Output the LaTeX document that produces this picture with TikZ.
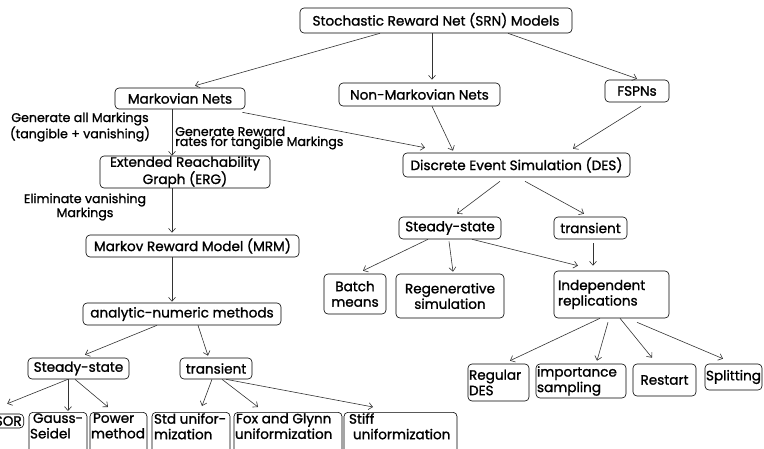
\documentclass[tikz,border=0pt]{standalone}
\usepackage{fontspec}
\setmainfont{Poppins}[FakeBold=1.2]
\usetikzlibrary{arrows.meta}
\newcommand\boxfont{\fontsize{13.6}{15.5}\selectfont}
\newcommand\ergfont{\fontsize{13.6}{10.5}\selectfont}
\newcommand\tightfont{\fontsize{12.6}{10}\selectfont}
\begin{document}
\begin{tikzpicture}[x=1pt,y=-1pt,
  box/.style={draw=black, line width=0.6pt, rounded corners=4pt, inner sep=0pt, font=\boxfont},
  lbl/.style={inner sep=0pt, font=\tightfont},
  arr/.style={draw=black!80, line width=0.6pt, -{Straight Barb[length=4pt,width=7pt]}}]
\useasboundingbox (0,0) rectangle (764,448);
\clip (0,0) rectangle (764,448);
% top level
\node[box, minimum width=272pt, minimum height=25pt] (srn) at (436,20.5) {Stochastic Reward Net (SRN) Models};
\node[box, minimum width=130pt, minimum height=21pt] (mn) at (180,98.5) {Markovian Nets};
\node[box, minimum width=161pt, minimum height=23pt] (nmn) at (419.5,94.5) {Non-Markovian Nets};
\node[box, minimum width=64pt, minimum height=22pt] (fspn) at (637,91) {FSPNs};
% left branch
\node[box, minimum width=170pt, minimum height=32pt, align=center, font=\ergfont] (erg) at (185,172) {Extended Reachability\\Graph (ERG)};
\node[box, minimum width=213pt, minimum height=22pt] (mrm) at (192.5,246) {Markov Reward Model (MRM)};
\node[box, minimum width=198pt, minimum height=22pt] (anm) at (182,314) {analytic-numeric methods};
\node[box, minimum width=101pt, minimum height=21pt] (ass) at (78.5,368.5) {Steady-state};
\node[box, minimum width=72pt, minimum height=21pt] (atr) at (216,368.5) {transient};
% right branch
\node[box, minimum width=227pt, minimum height=24pt] (des) at (516.5,165) {Discrete Event Simulation (DES)};
\node[box, minimum width=102pt, minimum height=22pt] (dss) at (450,228) {Steady-state};
\node[box, minimum width=73pt, minimum height=22pt] (dtr) at (590.5,228) {transient};
\node[box, minimum width=62pt, minimum height=40pt, align=center] (bat) at (355,294) {Batch\\means};
\node[box, minimum width=108pt, minimum height=44pt, align=center] (reg) at (450,296) {Regenerative\\simulation};
\node[box, minimum width=115pt, minimum height=47pt, align=left, text width=107pt, inner xsep=4pt] (ind) at (611.5,294.5) {Independent\\replications};
\node[box, minimum width=61pt, minimum height=37pt, align=left, text width=59pt, inner xsep=1pt] (rdes) at (498.5,382.5) {Regular\\DES};
\node[box, minimum width=90pt, minimum height=34pt, align=left, text width=88pt, inner xsep=1pt] (imp) at (581,381) {importance\\sampling};
\node[box, minimum width=63pt, minimum height=32pt] (rst) at (664.5,380) {Restart};
\node[box, minimum width=57pt, minimum height=26pt] (spl) at (733.5,377) {Splitting};
% bottom row
\node[box, anchor=east, minimum height=14pt, inner xsep=2pt] (sor) at (24,421) {SOR};
\node[box, anchor=north, inner xsep=1pt, inner ysep=1pt] (gs) at (58,412) {\parbox[t][48pt][t]{56pt}{\raggedright\hspace*{3pt}Gauss-\\Seidel}};
\node[box, anchor=north, inner xsep=1pt, inner ysep=1pt] (pm) at (118.5,412) {\parbox[t][48pt][t]{55pt}{\raggedright\hspace*{2pt}Power\\method}};
\node[box, anchor=north, inner xsep=2pt, inner ysep=1pt] (std) at (191,412) {\parbox[t][48pt][t]{74pt}{\raggedright Std unifor-\\mization}};
\node[box, anchor=north, inner xsep=1pt, inner ysep=1pt] (fox) at (288,412) {\parbox[t][48pt][t]{106pt}{\raggedright\hspace*{1pt}Fox and Glynn\\uniformization}};
\node[box, anchor=north, inner xsep=5pt, inner ysep=1pt] (stf) at (400.5,412) {\parbox[t][48pt][t]{103pt}{\raggedright Stiff\\\hspace*{4pt}uniformization}};
% labels
\node[lbl, align=center] (l1) at (80,127) {Generate all Markings\\(tangible + vanishing)};
\node[lbl, align=left, anchor=west] (l2) at (175,138) {Generate Reward\\rates for tangible Markings};
\node[lbl, align=center] (l3) at (85,207) {Eliminate vanishing\\Markings};
% edges
\draw[arr] ([xshift=-56pt]srn.south) -- ([xshift=15pt,yshift=2pt]mn.north);
\draw[arr] ([xshift=-4pt]srn.south) -- ([xshift=12.5pt,yshift=3pt]nmn.north);
\draw[arr] ([xshift=72pt]srn.south) -- ([yshift=1pt]fspn.north);
\draw[arr] ([xshift=-8pt]mn.south) -- ([xshift=-13pt]erg.north);
\draw[arr] ([xshift=-3pt,yshift=-3pt]mn.south east) -- ([xshift=-91.5pt,yshift=5pt]des.north);
\draw[arr] ([xshift=12.5pt]nmn.south) -- ([xshift=-63.5pt,yshift=2pt]des.north);
\draw[arr] ([xshift=4pt,yshift=-4pt]fspn.south) -- ([xshift=56.5pt,yshift=4pt]des.north);
\draw[arr] ([xshift=-13pt]erg.south) -- ([xshift=-20.5pt,yshift=2pt]mrm.north);
\draw[arr] ([xshift=-20.5pt]mrm.south) -- ([xshift=-10pt,yshift=1pt]anm.north);
\draw[arr] ([xshift=-16.5pt,yshift=-4pt]des.south) -- ([xshift=7pt,yshift=3pt]dss.north);
\draw[arr] ([xshift=8.5pt,yshift=-4pt]des.south) -- ([xshift=-6.5pt,yshift=3pt]dtr.north);
\draw[arr] ([xshift=-22pt]dss.south) -- ([xshift=8pt,yshift=3pt]bat.north);
\draw[arr] ([xshift=-1pt,yshift=-2pt]dss.south) -- ([xshift=3pt,yshift=2pt]reg.north);
\draw[arr] ([xshift=22pt]dss.south) -- ([xshift=-33.5pt,yshift=5pt]ind.north);
\draw[arr] ([xshift=2.5pt,yshift=-4pt]dtr.south) -- ([xshift=-18.5pt,yshift=5pt]ind.north);
\draw[arr] ([xshift=-11.5pt]ind.south) -- ([xshift=11.5pt,yshift=3pt]rdes.north);
\draw[arr] ([xshift=-3.5pt,yshift=-4pt]ind.south) -- ([xshift=16pt,yshift=3pt]imp.north);
\draw[arr] ([xshift=8.5pt]ind.south) -- ([xshift=-12.5pt,yshift=6pt]rst.north);
\draw[arr] ([xshift=25.5pt,yshift=-4pt]ind.south) -- ([xshift=-10.5pt,yshift=5pt]spl.north);
\draw[arr] ([xshift=-25pt]anm.south) -- ([xshift=6.5pt,yshift=3pt]ass.north);
\draw[arr] ([xshift=16pt]anm.south) -- ([xshift=-8pt,yshift=2pt]atr.north);
\draw[arr] ([xshift=-10.5pt]ass.south) -- ([xshift=-1pt,yshift=10pt]sor.north);
\draw[arr] ([xshift=-10.5pt]ass.south) -- ([xshift=10pt,yshift=1pt]gs.north);
\draw[arr] ([xshift=-3.5pt]ass.south) -- ([xshift=-10.5pt,yshift=5pt]pm.north);
\draw[arr] ([xshift=-4pt]atr.south) -- ([xshift=11pt,yshift=6pt]std.north);
\draw[arr] ([xshift=6pt]atr.south) -- ([xshift=-30pt,yshift=5pt]fox.north);
\draw[arr] ([xshift=10pt]atr.south) -- ([xshift=-27.5pt,yshift=5pt]stf.north);
\end{tikzpicture}
\end{document}
